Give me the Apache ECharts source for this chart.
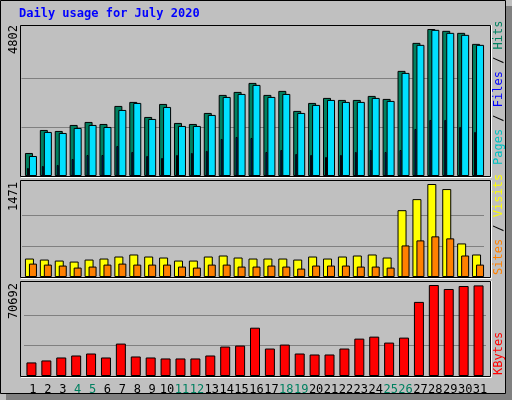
<!DOCTYPE html>
<html>
<head>
<meta charset="utf-8">
<script src="https://cdn.jsdelivr.net/npm/echarts@6/dist/echarts.min.js"></script>
<style>html,body{margin:0;padding:0;background:#c0c0c0;}#chart{width:512px;height:400px;}</style>
</head>
<body>
<div id="chart"></div>
<script>
// daily values, July 2020
const days = ['1','2','3','4','5','6','7','8','9','10','11','12','13','14','15','16','17','18','19','20','21','22','23','24','25','26','27','28','29','30','31'];
const weekend = ['4','5','11','12','18','19','25','26'];
const hits = [752,1504,1472,1668,1766,1700,2289,2420,1929,2354,1733,1700,2060,2649,2747,3041,2649,2780,2126,2387,2551,2485,2485,2616,2518,3434,4349,4802,4742,4676,4316];
const files = [654,1439,1406,1570,1668,1602,2158,2387,1864,2256,1635,1635,1995,2583,2681,2976,2583,2681,2060,2322,2485,2420,2420,2551,2453,3368,4284,4774,4676,4611,4284];
const pages = [262,327,360,556,687,687,981,785,654,589,687,752,818,1210,1275,1243,785,850,719,687,621,687,785,850,785,850,1537,1831,1831,1602,1439];
const visits = [292,276,260,244,276,292,324,356,324,308,260,260,324,340,308,292,292,292,276,324,292,324,340,356,308,1057,1232,1471,1391,531,356];
const sites = [212,196,181,149,165,196,212,196,196,196,165,149,196,196,165,165,181,165,133,181,181,181,165,165,149,499,579,643,611,340,196];
const kbytes = [10537,12079,14392,15934,17476,14392,25186,15163,14392,13621,13621,13621,15934,22873,23644,37522,21331,24415,17476,16705,16705,21331,29041,30583,25957,29812,57568,70692,67591,69904,70400];

const FONT = 'DejaVu Sans Mono';
const BASE_L = 25.5, BASE_W = 462;
// panels: [top, height, max scale padding]
const panels = [
    {top: 25, height: 151, max: 4802},
    {top: 180, height: 97, max: 1471},
    {top: 281, height: 95, max: 70692}
];

const grids = [], xAxes = [], yAxes = [], series = [];
function addBar(panel, data, shift, width, color, gridLines) {
    const p = panels[panel];
    const idx = grids.length;
    grids.push({left: BASE_L + shift, top: p.top, width: BASE_W, height: p.height});
    xAxes.push({type: 'category', gridIndex: idx, data: days, show: false});
    yAxes.push({type: 'value', gridIndex: idx, min: 0, max: p.max * (p.height / (p.height - 4)), show: false});
    const s = {
        type: 'bar', xAxisIndex: idx, yAxisIndex: idx, data: data, barWidth: width,
        itemStyle: {color: color, borderColor: '#000', borderWidth: 1},
        animation: false, z: 3
    };
    if (gridLines) {
        s.markLine = {
            silent: true, symbol: 'none', label: {show: false}, z: 1,
            lineStyle: {color: '#808080', type: 'solid', width: 1},
            data: [{yAxis: p.max / 3}, {yAxis: p.max * 2 / 3}]
        };
    }
    series.push(s);
}
addBar(0, hits, -4, 8, '#008060', true);
addBar(0, files, 0, 8, '#00e0ff', false);
addBar(0, pages, -5, 2, '#0040ff', false);
addBar(1, visits, -3.5, 9, '#ffff00', true);
addBar(1, sites, 0, 8, '#ff8000', false);
addBar(2, kbytes, -1.5, 10, '#ff0000', true);
// day labels under bottom panel
grids.push({left: BASE_L, top: 281, width: BASE_W, height: 95});
xAxes.push({
    type: 'category', gridIndex: grids.length - 1, data: days,
    axisLine: {show: false}, axisTick: {show: false},
    axisLabel: {
        margin: 8, interval: 0, fontFamily: FONT, fontSize: 12,
        formatter: v => weekend.includes(v) ? '{w|' + v + '}' : v,
        color: '#000', rich: {w: {color: '#008060', fontFamily: FONT, fontSize: 12}}
    }
});
yAxes.push({type: 'value', gridIndex: grids.length - 1, show: false});

const graphics = [
    {type: 'rect', shape: {x: 505, y: 6, width: 7, height: 394}, style: {fill: '#808080'}, z: -10},
    {type: 'rect', shape: {x: 6, y: 393, width: 506, height: 7}, style: {fill: '#808080'}, z: -10},
    {type: 'rect', shape: {x: 0.5, y: 0.5, width: 505, height: 393}, style: {fill: null, stroke: '#000', lineWidth: 1}, z: -9},
    {type: 'text', left: 19, top: 8, style: {text: 'Daily usage for July 2020', fill: '#0000ff', font: 'bold 12px ' + FONT}}
];
panels.forEach(p => {
    graphics.push({type: 'rect', shape: {x: 20.5, y: p.top + 0.5, width: 470, height: p.height}, style: {fill: null, stroke: '#000', lineWidth: 1}, z: 10});
    graphics.push({type: 'polyline', shape: {points: [[21, p.top + p.height + 1.5], [491.5, p.top + p.height + 1.5], [491.5, p.top]]}, style: {stroke: '#fff', lineWidth: 1, fill: null}, z: 10});
});
// left max labels (rotated)
[['4802', 25], ['1471', 182], ['70692', 283]].forEach(([t, y]) => {
    graphics.push({type: 'text', x: 8, y: y, rotation: Math.PI / 2, style: {text: t, fill: '#000', font: '12px ' + FONT, align: 'right', verticalAlign: 'top'}});
});
// right legends (rotated, read bottom to top)
function legend(parts, yBottom) {
    graphics.push({
        type: 'text', x: 493, y: yBottom, rotation: Math.PI / 2,
        style: {
            rich: {
                a: {fill: '#00c0c0', font: '12px ' + FONT}, b: {fill: '#0000ff', font: '12px ' + FONT},
                c: {fill: '#008060', font: '12px ' + FONT}, d: {fill: '#ff8000', font: '12px ' + FONT},
                e: {fill: '#ffff00', font: '12px ' + FONT}, f: {fill: '#ff0000', font: '12px ' + FONT},
                k: {fill: '#000', font: '12px ' + FONT}
            },
            text: parts, verticalAlign: 'top', align: 'left'
        }
    });
}
legend('{a|Pages}{k| / }{b|Files}{k| / }{c|Hits}', 165);
legend('{d|Sites}{k| / }{e|Visits}', 275);
legend('{f|KBytes}', 375);

const chart = echarts.init(document.getElementById('chart'));
chart.setOption({
    backgroundColor: '#c0c0c0',
    animation: false,
    grid: grids, xAxis: xAxes, yAxis: yAxes, series: series,
    graphic: graphics
});
</script>
</body>
</html>
